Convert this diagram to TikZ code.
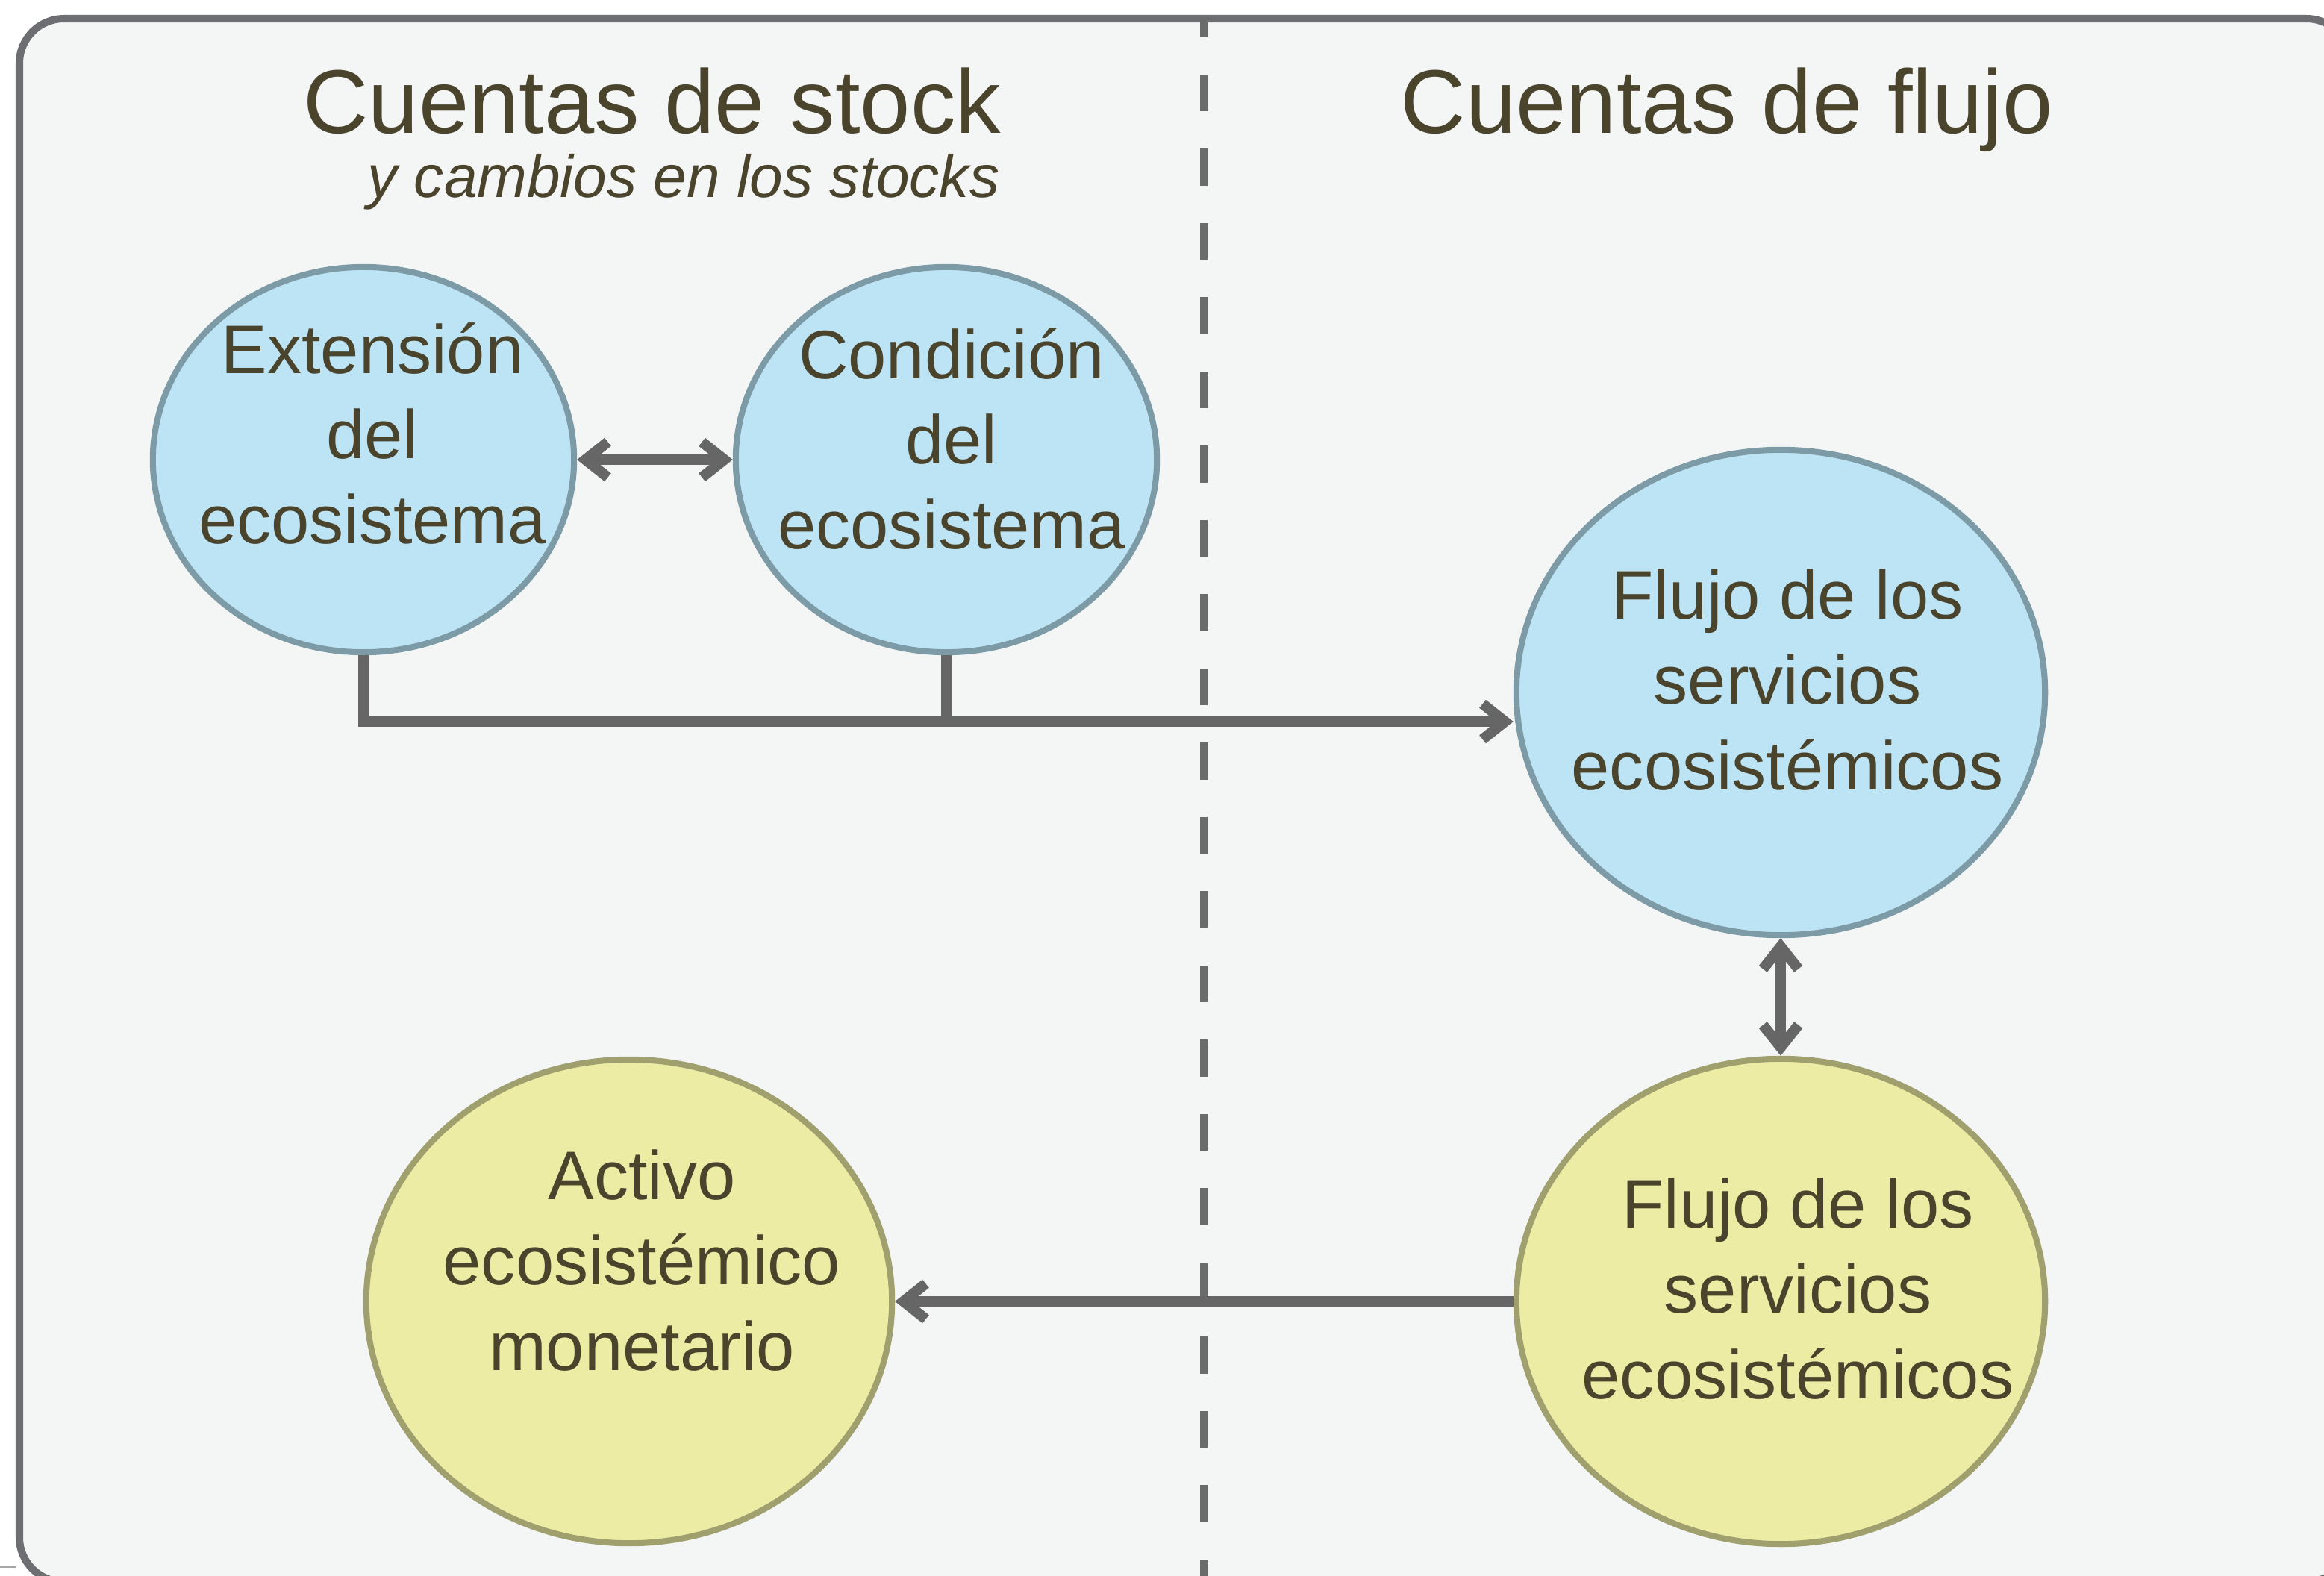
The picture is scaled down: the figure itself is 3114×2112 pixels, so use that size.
\documentclass[tikz,border=0pt]{standalone}
\usepackage{fontspec}
\setmainfont{Liberation Sans}
\usetikzlibrary{arrows.meta,shapes.geometric}
\definecolor{bgc}{HTML}{F4F6F6}
\definecolor{framec}{HTML}{6D6E72}
\definecolor{dashc}{HTML}{6B6B6B}
\definecolor{connc}{HTML}{666666}
\definecolor{bluefill}{HTML}{BCE4F5}
\definecolor{blueline}{HTML}{7D9BA6}
\definecolor{yelfill}{HTML}{ECECA4}
\definecolor{yelline}{HTML}{A09F6E}
\definecolor{txtc}{HTML}{4A442D}
\begin{document}
\begin{tikzpicture}[x=0.01cm,y=-0.01cm,
  frame/.style={draw=framec,line width=2.85pt,fill=bgc,rounded corners=17pt},
  divider/.style={draw=dashc,line width=2.85pt,dash pattern=on 14.08pt off 14.22pt,dash phase=7.1pt},
  conn/.style={draw=connc,line width=4pt},
  barb/.tip={Straight Barb[length=8.5pt,width=13.5pt]},
  bnode/.style={ellipse,draw=blueline,fill=bluefill,line width=2.3pt,inner sep=0pt},
  ynode/.style={ellipse,draw=yelline,fill=yelfill,line width=2.3pt,inner sep=0pt},
  lbl/.style={text=txtc,align=center,inner sep=0pt,font=\fontsize{26.2}{32.5}\selectfont},
  title/.style={text=txtc,inner sep=0pt,font=\fontsize{34.4}{40}\selectfont},
  subt/.style={text=txtc,inner sep=0pt,font=\fontsize{22.8}{27}\selectfont\itshape}]
\fill[white] (0,0) rectangle (3114,2112);
\useasboundingbox (0,0) rectangle (3114,2112);
\clip (0,0) rectangle (3114,2112);
\draw[frame] (26,25) rectangle (3150,2120);
\draw[line width=0.6pt,color=gray!70] (0,2100) -- (21,2100);
\coordinate (dtop) at (1613,25);
\coordinate (dbot) at (1613,2112);
\draw[divider] (dtop) -- (dbot);
% titles
\node[title,anchor=base east] (tstock) at (1342,178) {Cuentas de stock};
\node[subt,anchor=base east] (tsub) at (1340,264) {y cambios en los stocks};
\node[title,anchor=base] (tflujo) at (2314,178) {Cuentas de flujo};
% ellipses
\node[bnode,minimum width=5.64cm,minimum height=5.16cm] (ext) at (487,616) {};
\node[bnode,minimum width=5.64cm,minimum height=5.16cm] (cond) at (1268,616) {};
\node[bnode,minimum width=7.08cm,minimum height=6.5cm] (flujo1) at (2386,928) {};
\node[ynode,minimum width=7.08cm,minimum height=6.5cm] (flujo2) at (2386,1744) {};
\node[ynode,minimum width=7.04cm,minimum height=6.48cm] (activo) at (843,1744) {};
% labels
\node[lbl] (extT) at (499,581) {Extensión\\del\\ecosistema};
\node[lbl] (condT) at (1275,588) {Condición\\del\\ecosistema};
\node[lbl] (flujo1T) at (2395,911) {Flujo de los\\servicios\\ecosistémicos};
\node[lbl] (flujo2T) at (2409,1727) {Flujo de los\\servicios\\ecosistémicos};
\node[lbl] (activoT) at (860,1689) {Activo\\ecosistémico\\monetario};
% connectors
\coordinate (hy) at (0,967);
\draw[conn,{barb}-{barb}] (ext) -- (cond);
\draw[conn,-{barb}] (ext.south) |- (hy -| flujo1.west);
\draw[conn] (cond.south) -- (cond.south |- hy);
\draw[conn,{barb}-{barb}] (flujo1) -- (flujo2);
\draw[conn,-{barb}] (flujo2.west) -- (flujo2.west -| activo.east);
\end{tikzpicture}
\end{document}
